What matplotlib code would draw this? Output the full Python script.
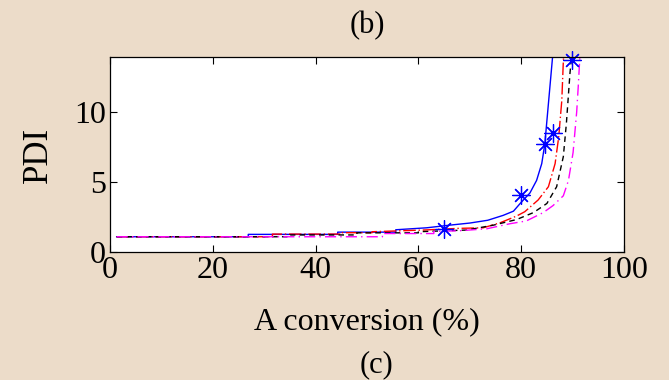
import matplotlib.pyplot as plt

# model curves (A conversion %, PDI)
blue_x = [1.3, 26.9, 26.9, 44.3, 44.3, 55.6, 55.6, 61.6, 66.1, 70.0, 73.5, 76.5, 78.5, 79.8,
          81.7, 83.0, 84.0, 84.6, 86.1, 86.4]
blue_y = [1.07, 1.07, 1.24, 1.24, 1.4, 1.4, 1.57, 1.71, 1.9, 2.05, 2.25, 2.6, 2.9, 3.45,
          4.2, 5.1, 6.3, 7.7, 13.9, 15.0]

red_x = [1.3, 31.6, 31.6, 45.0, 45.0, 51.0, 51.0, 61.0, 67.8, 72.6, 75.9, 79.1, 80.7,
         83.3, 85.3, 86.6, 87.3, 87.9, 88.2, 88.4]
red_y = [1.07, 1.07, 1.26, 1.26, 1.36, 1.36, 1.43, 1.55, 1.67, 1.71, 2.07, 2.55, 2.86,
         3.7, 4.65, 6.3, 8.2, 10.8, 13.6, 15.0]

black_x = [1.3, 35.0, 35.0, 48.0, 48.0, 60.0, 60.0, 69.4, 74.6, 79.1, 82.4, 85.0, 86.9,
           88.2, 88.8, 89.5, 89.8, 90.0]
black_y = [1.07, 1.07, 1.2, 1.2, 1.35, 1.35, 1.43, 1.55, 1.9, 2.3, 2.8, 3.45, 4.65,
           6.8, 9.2, 12.8, 13.9, 15.0]

mag_x = [1.3, 53.0, 53.0, 63.0, 63.0, 68.0, 73.3, 77.8, 81.0, 84.3, 86.2, 88.2, 89.2,
         90.1, 90.8, 91.1, 91.5]
mag_y = [1.07, 1.07, 1.3, 1.3, 1.45, 1.5, 1.64, 2.0, 2.2, 2.8, 3.3, 4.0, 5.1,
         7.1, 10.0, 11.8, 14.5]

# experimental points
exp_x = [64.9, 79.9, 84.6, 86.1, 89.9]
exp_y = [1.6, 4.03, 7.7, 8.5, 13.74]

bg = '#ecdcc9'
plt.rcParams['font.family'] = ['Liberation Serif', 'DejaVu Serif']

fig = plt.figure(figsize=(6.69, 3.80), dpi=100, facecolor=bg)
ax = fig.add_axes([0.1644, 0.3376, 0.7683, 0.5114])

ax.plot(blue_x, blue_y, color='blue', lw=1.0)
ax.plot(red_x, red_y, color='red', lw=1.0, dashes=(9, 2, 1, 2))
ax.plot(black_x, black_y, color='black', lw=1.0, dashes=(4, 3))
ax.plot(mag_x, mag_y, color='magenta', lw=1.0, dashes=(8, 3, 1, 3))
ax.plot(exp_x, exp_y, linestyle='none', marker=(8, 2, 0), color='blue',
        markersize=13, markeredgewidth=0.9, clip_on=False)

ax.set_xlim(0, 100)
ax.set_ylim(0, 13.9)
ax.set_xticks([0, 20, 40, 60, 80, 100])
ax.set_yticks([0, 5, 10])
ax.tick_params(direction='in', top=True, right=True, length=5, width=0.8,
               labelsize=23, pad=3)
for s in ax.spines.values():
    s.set_linewidth(0.9)

ax.set_xlabel('A conversion (%)', fontsize=23, labelpad=16)
ax.yaxis.set_label_coords(-0.108, 0.47)
ax.set_ylabel('PDI', fontsize=25)

fig.text(0.549, 0.932, '(b)', ha='center', va='center', fontsize=22)
fig.text(0.563, 0.04, '(c)', ha='center', va='center', fontsize=22)

fig.savefig('out.png', dpi=100, facecolor=bg)
